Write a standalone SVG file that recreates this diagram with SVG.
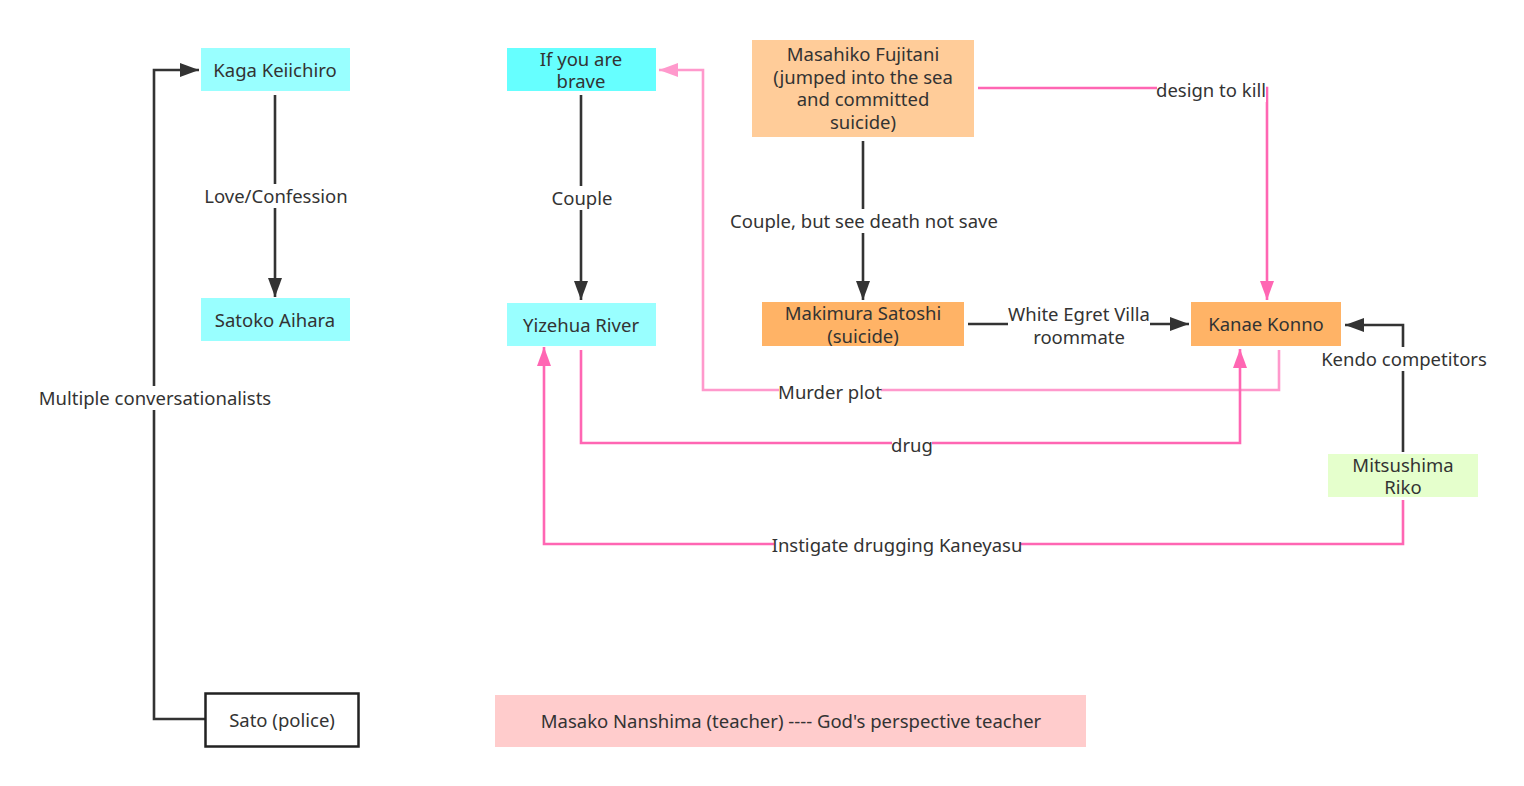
<svg xmlns="http://www.w3.org/2000/svg" width="1524" height="786" viewBox="0 0 1524 786">
<style>
text{font-family:"Noto Sans","Open Sans","Liberation Sans",sans-serif;font-size:18.5px;fill:#333;text-anchor:middle;dominant-baseline:central}
.c{fill:none;stroke-width:2.6}
.dk{stroke:#333}
.pk{stroke:#FF66B3}
.lp{stroke:#FF99CC}
.bg{fill:#fff}
</style>
<defs>
<marker id="ad" markerUnits="userSpaceOnUse" markerWidth="20" markerHeight="14" refX="19" refY="7" orient="auto"><path d="M0,0 L19,7 L0,14 Z" fill="#333"/></marker>
<marker id="ap" markerUnits="userSpaceOnUse" markerWidth="20" markerHeight="14" refX="19" refY="7" orient="auto"><path d="M0,0 L19,7 L0,14 Z" fill="#FF66B3"/></marker>
<marker id="al" markerUnits="userSpaceOnUse" markerWidth="20" markerHeight="14" refX="19" refY="7" orient="auto"><path d="M0,0 L19,7 L0,14 Z" fill="#FF99CC"/></marker>
</defs>
<rect width="1524" height="786" fill="#fff"/>
<g id="connectors">
<path class="c dk" d="M275,95 V297" marker-end="url(#ad)"/>
<path class="c dk" d="M205,719 H154 V70 H199" marker-end="url(#ad)"/>
<path class="c dk" d="M581,95 V300" marker-end="url(#ad)"/>
<path class="c dk" d="M863,141 V300" marker-end="url(#ad)"/>
<path class="c dk" d="M968,324 H1189" marker-end="url(#ad)"/>
<path class="c pk" d="M978,88 H1267 V300" marker-end="url(#ap)"/>
<path class="c dk" d="M1403,452 V325 H1345" marker-end="url(#ad)"/>
<path class="c lp" d="M1279,350 V390 H703 V70 H659" marker-end="url(#al)"/>
<path class="c pk" d="M581,350 V443 H1240 V349" marker-end="url(#ap)"/>
<path class="c pk" d="M1403,500 V544 H544 V347" marker-end="url(#ap)"/>
<rect class="bg" x="204" y="184" width="144" height="24"/>
<text x="276" y="195">Love/Confession</text>
<rect class="bg" x="40" y="386" width="230" height="24"/>
<text x="155" y="397">Multiple conversationalists</text>
<rect class="bg" x="551" y="186" width="62" height="24"/>
<text x="582" y="197">Couple</text>
<rect class="bg" x="731" y="209" width="266" height="24"/>
<text x="864" y="220">Couple, but see death not save</text>
<rect class="bg" x="1008" y="302" width="142" height="46"/>
<text x="1079" y="313">White Egret Villa</text>
<text x="1079" y="336">roommate</text>
<rect class="bg" x="1157" y="78" width="109" height="24"/>
<text x="1211" y="89">design to kill</text>
<rect class="bg" x="1322" y="347" width="164" height="24"/>
<text x="1404" y="358">Kendo competitors</text>
<rect class="bg" x="779" y="380" width="102" height="24"/>
<text x="830" y="391">Murder plot</text>
<rect class="bg" x="892" y="433" width="40" height="24"/>
<text x="912" y="444">drug</text>
<rect class="bg" x="774" y="533" width="246" height="24"/>
<text x="897" y="544">Instigate drugging Kaneyasu</text>
</g>
<g id="kaga"><rect x="201" y="48" width="149" height="43" fill="#99FFFF"/><text x="275" y="69">Kaga Keiichiro</text></g>
<g id="satoko"><rect x="201" y="298" width="149" height="43" fill="#99FFFF"/><text x="275" y="319">Satoko Aihara</text></g>
<g id="brave"><rect x="507" y="48" width="149" height="43" fill="#66FFFF"/><text x="581" y="58">If you are</text><text x="581" y="80">brave</text></g>
<g id="yizehua"><rect x="507" y="303" width="149" height="43" fill="#99FFFF"/><text x="581" y="324">Yizehua River</text></g>
<g id="masahiko"><rect x="752" y="40" width="222" height="97" fill="#FFCC99"/><text x="863" y="53">Masahiko Fujitani</text><text x="863" y="76">(jumped into the sea</text><text x="863" y="98">and committed</text><text x="863" y="121">suicide)</text></g>
<g id="makimura"><rect x="762" y="302" width="202" height="44" fill="#FFB366"/><text x="863" y="312">Makimura Satoshi</text><text x="863" y="335">(suicide)</text></g>
<g id="kanae"><rect x="1191" y="302" width="150" height="44" fill="#FFB366"/><text x="1266" y="323">Kanae Konno</text></g>
<g id="mitsushima"><rect x="1328" y="454" width="150" height="43" fill="#E5FFCC"/><text x="1403" y="464">Mitsushima</text><text x="1403" y="486">Riko</text></g>
<g id="sato"><rect x="205.5" y="693.5" width="153" height="53" fill="#fff" stroke="#222" stroke-width="2.5"/><text x="282" y="719">Sato (police)</text></g>
<g id="masako"><rect x="495" y="695" width="591" height="52" fill="#FFCCCC"/><text x="791" y="720">Masako Nanshima (teacher) ---- God's perspective teacher</text></g>
</svg>
